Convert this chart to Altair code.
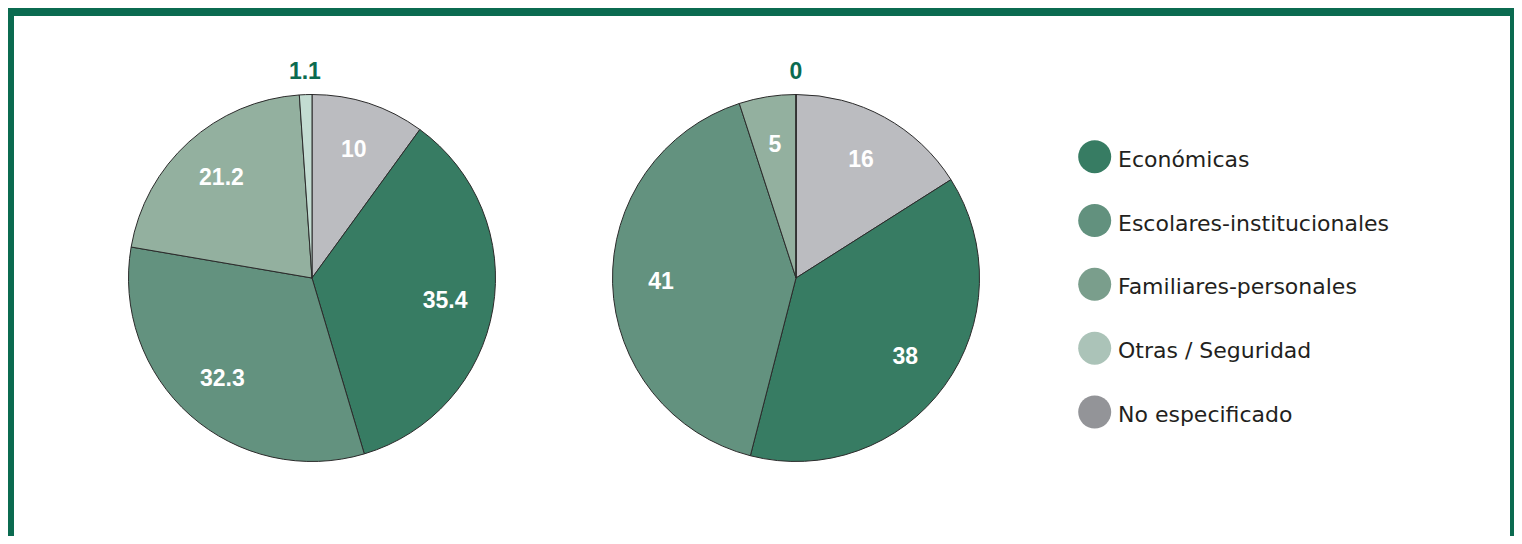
import math
import altair as alt
import pandas as pd

# ---- data ----
categories = ["No especificado", "Económicas", "Escolares-institucionales",
              "Familiares-personales", "Otras / Seguridad"]
pie_names = ["A", "B"]
pie_a_values = [10, 35.4, 32.3, 21.2, 1.1]
pie_b_values = [16, 38, 41, 5, 0]
legend_labels = ["Económicas", "Escolares-institucionales", "Familiares-personales",
                 "Otras / Seguridad", "No especificado"]

# ---- styles ----
pie_colors = ["#bbbcc0", "#377c63", "#63927f", "#93b09f", "#c3dcd2"]
legend_colors = ["#377c63", "#62917e", "#7a9e8c", "#abc3b8", "#939498"]
frame_green = "#0b6b50"

rows = []
for pname, vals in zip(pie_names, [pie_a_values, pie_b_values]):
    for k, (c, v) in enumerate(zip(categories, vals)):
        rows.append({"pie": pname, "cat": c, "value": v, "k": k})
pie_df = pd.DataFrame(rows)
legend_df = pd.DataFrame({"cat": legend_labels})

W, H = 1506, 528
TWO_PI = 2 * math.pi

xscale = alt.Scale(type="point", domain=pie_names, range=[304, 788], padding=0)
tscale = alt.Scale(domain=[0, 100], range=[0, TWO_PI])

base = (
    alt.Chart(pie_df)
    .transform_window(cum="sum(value)", groupby=["pie"], sort=[alt.SortField("k")])
    .transform_calculate(start="datum.cum - datum.value",
                         mid="datum.cum - datum.value / 2")
)

arcs = base.mark_arc(outerRadius=183.5, stroke="#2b2b2b", strokeWidth=1).encode(
    x=alt.X("pie:N", scale=xscale, axis=None),
    y=alt.value(270),
    theta=alt.Theta("start:Q", scale=tscale, stack=None),
    theta2="cum:Q",
    color=alt.Color("cat:N", scale=alt.Scale(domain=categories, range=pie_colors), legend=None),
)

inner_labels = base.transform_filter("datum.value >= 2").mark_text(
    radius=135, font="Liberation Sans", fontWeight="bold", fontSize=23, color="white",
    align="center", baseline="middle"
).encode(
    x=alt.X("pie:N", scale=xscale, axis=None),
    y=alt.value(270),
    theta=alt.Theta("mid:Q", scale=tscale, stack=None),
    text=alt.Text("value:Q"),
)

outer_labels = base.transform_filter("datum.value < 2").mark_text(
    radius=206, font="Liberation Sans", fontWeight="bold", fontSize=23, color=frame_green,
    align="center", baseline="middle"
).encode(
    x=alt.X("pie:N", scale=xscale, axis=None),
    y=alt.value(270),
    theta=alt.Theta("mid:Q", scale=tscale, stack=None),
    text=alt.Text("value:Q"),
)

yscale = alt.Scale(type="point", domain=legend_labels, range=[148.7, 404], padding=0)

legend_dots = alt.Chart(legend_df).mark_circle(size=1090, opacity=1).encode(
    x=alt.value(1086.7),
    y=alt.Y("cat:N", scale=yscale, axis=None),
    color=alt.Color("cat:N", scale=alt.Scale(domain=legend_labels, range=legend_colors), legend=None),
)

legend_text = alt.Chart(legend_df).mark_text(
    align="left", baseline="middle", dy=3, font="DejaVu Sans", fontSize=22, color="#231f20"
).encode(
    x=alt.value(1110),
    y=alt.Y("cat:N", scale=yscale, axis=None),
    text="cat:N",
)

frame_top = alt.Chart(legend_df).mark_rect(color=frame_green).encode(
    x=alt.value(0), x2=alt.value(W), y=alt.value(0), y2=alt.value(8))
frame_left = alt.Chart(legend_df).mark_rect(color=frame_green).encode(
    x=alt.value(0), x2=alt.value(6), y=alt.value(0), y2=alt.value(H))
frame_right = alt.Chart(legend_df).mark_rect(color=frame_green).encode(
    x=alt.value(W - 4), x2=alt.value(W), y=alt.value(0), y2=alt.value(H))

chart = (
    alt.layer(arcs, inner_labels, outer_labels, legend_dots, legend_text,
              frame_top, frame_left, frame_right)
    .resolve_scale(color="independent")
    .properties(width=W, height=H, padding=0,
                autosize=alt.AutoSizeParams(type="none"))
    .configure_view(stroke=None)
)

chart.save("out.html", embed_options={"renderer": "svg", "actions": False})
